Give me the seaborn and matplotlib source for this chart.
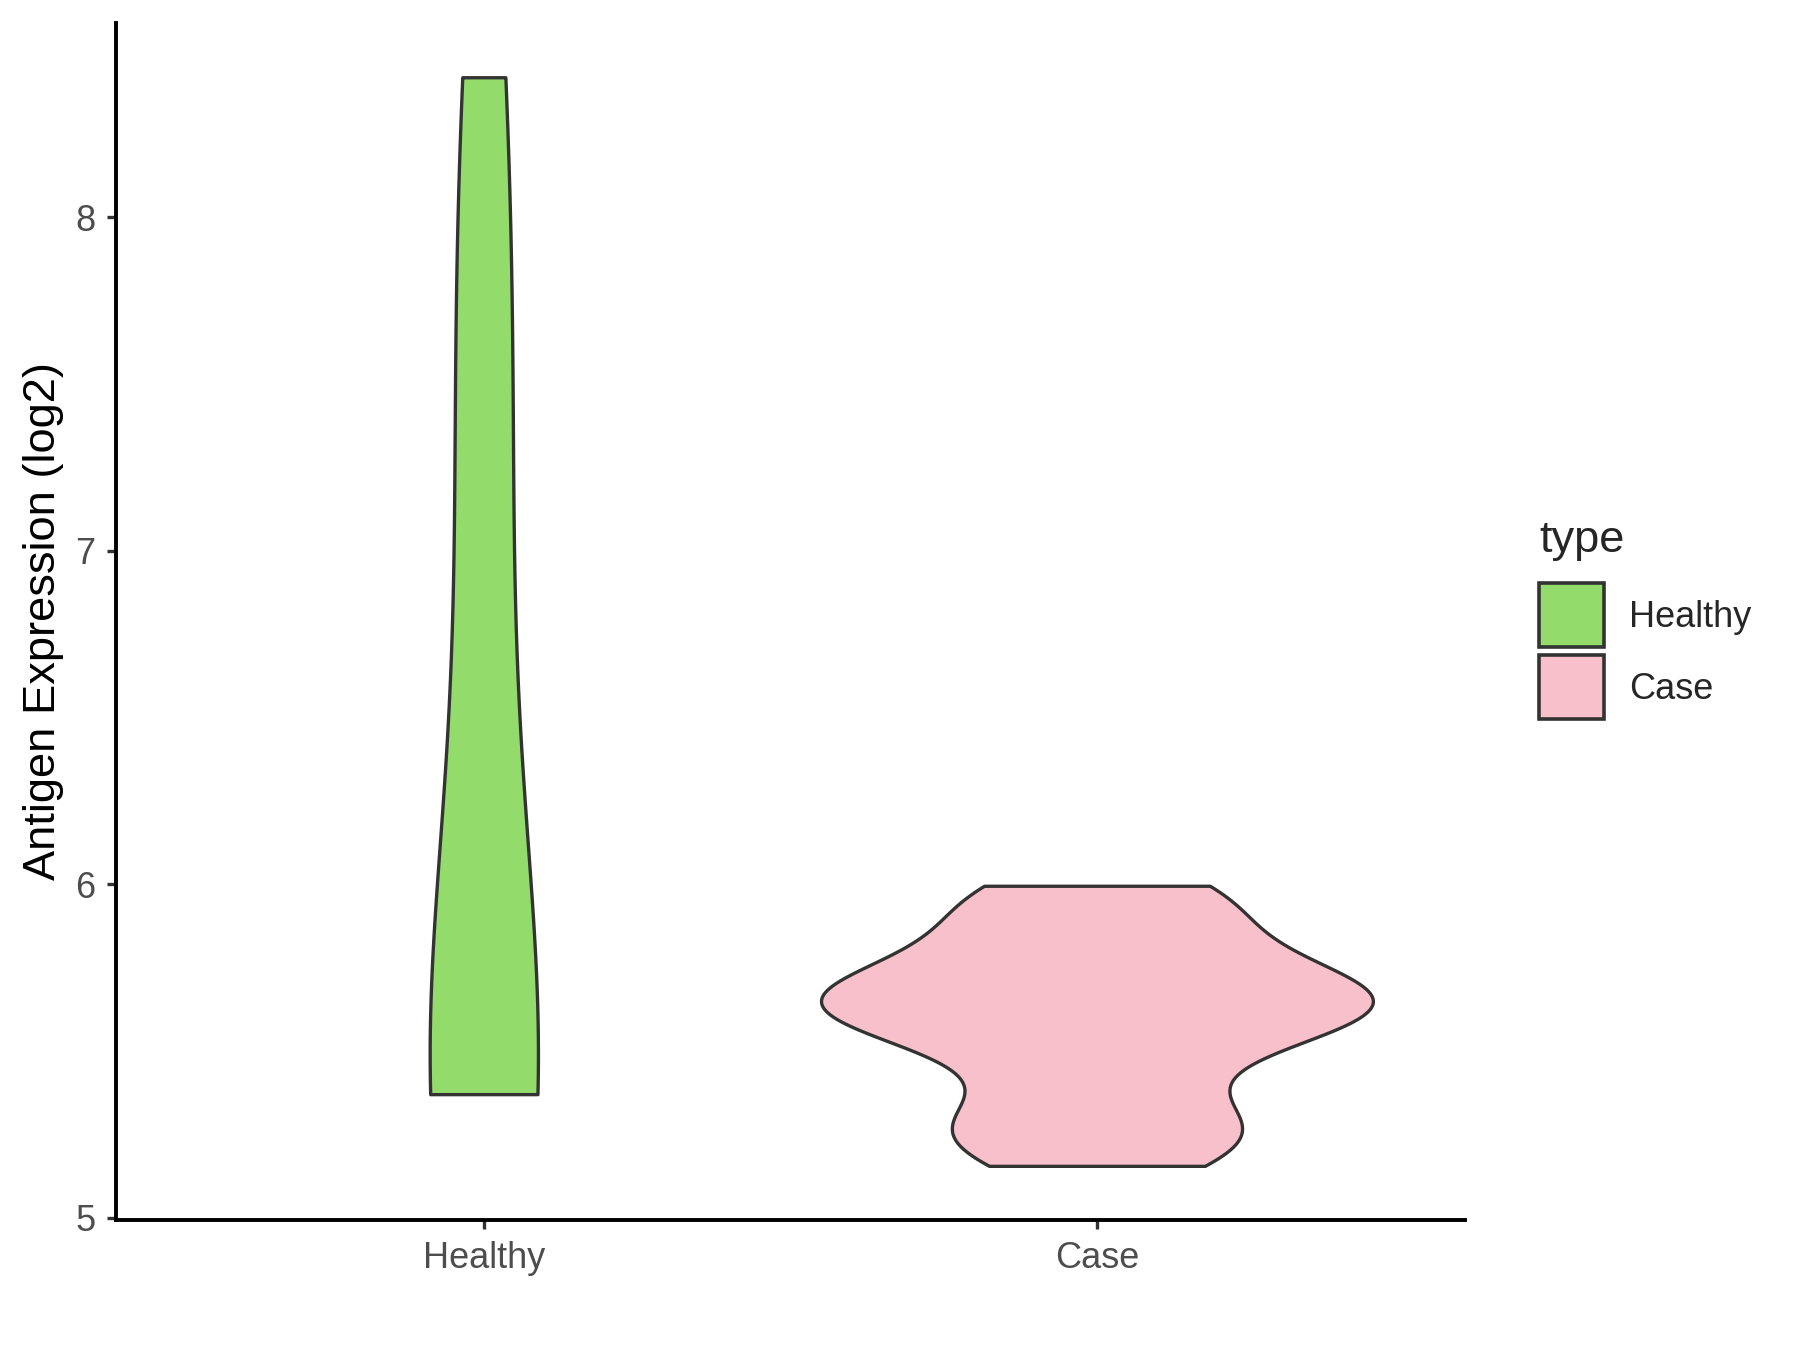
import numpy as np
import pandas as pd
import matplotlib
matplotlib.use("Agg")
import matplotlib.pyplot as plt
from matplotlib.patches import Patch
import seaborn as sns

# ---- data (log2 antigen expression) ----
categories = ["Healthy", "Case"]
healthy_values = [5.37, 5.38, 5.40, 5.44, 6.80, 7.60, 8.42]
case_values = [5.155, 5.17, 5.19, 5.23, 5.25, 5.27, 5.29, 5.31, 5.33,
               5.45, 5.49, 5.52, 5.55, 5.57,
               5.59, 5.61, 5.62, 5.63, 5.64, 5.65, 5.655, 5.66, 5.67, 5.68, 5.70,
               5.72, 5.75, 5.78, 5.81, 5.85, 5.89, 5.93, 5.96, 5.98, 5.99, 5.995]
colors = ["#93DB6A", "#F7C0CB"]
y_ticks = [5, 6, 7, 8]
y_label = "Antigen Expression (log2)"
legend_title = "type"

df = pd.DataFrame({
    "type": ["Healthy"] * len(healthy_values) + ["Case"] * len(case_values),
    "value": healthy_values + case_values,
})
palette = dict(zip(categories, colors))


def nrd0(kde):
    """Silverman's rule of thumb (R bw.nrd0) expressed as a scipy factor."""
    x = kde.dataset[0]
    sd = np.std(x, ddof=1)
    q75, q25 = np.percentile(x, [75, 25])
    lo = min(sd, (q75 - q25) / 1.34)
    bw = 0.9 * lo * len(x) ** (-0.2)
    return bw / sd


sns.set_style("white")
plt.rcParams["font.family"] = ["Liberation Sans", "DejaVu Sans"]

fig = plt.figure(figsize=(9, 6.75), dpi=200)
ax = fig.add_axes([0.0644, 0.0961, 0.7494, 0.887])

sns.violinplot(data=df, x="type", y="value", hue="type", order=categories,
               hue_order=categories, palette=palette, legend=False,
               density_norm="area", common_norm=True, cut=0, gridsize=512,
               bw_method=nrd0, inner=None, width=0.9, linewidth=1.2,
               linecolor="#333333", saturation=1, ax=ax)

allv = np.array(healthy_values + case_values)
rng = allv.max() - allv.min()
ax.set_ylim(allv.min() - 0.05 * rng, allv.max() + 0.05 * rng)
ax.set_xlim(-0.6, len(categories) - 0.4)
ax.set_yticks(y_ticks)
ax.set_yticklabels([str(t) for t in y_ticks])
ax.set_xlabel("")
ax.set_ylabel(y_label, fontsize=16.3, color="black", labelpad=4)

for side in ["top", "right"]:
    ax.spines[side].set_visible(False)
for side in ["left", "bottom"]:
    ax.spines[side].set_color("black")
    ax.spines[side].set_linewidth(1.4)
ax.tick_params(axis="both", which="major", length=3.3, width=1.2,
               color="#333333", labelcolor="#4D4D4D", labelsize=13, pad=4,
               left=True, bottom=True)
ax.grid(False)

handles = [Patch(facecolor=palette[c], edgecolor="#333333", linewidth=1.3, label=c)
           for c in categories]
leg = fig.legend(handles=handles, title=legend_title, loc="upper left",
                 bbox_to_anchor=(0.845, 0.628), frameon=False, fontsize=13,
                 title_fontsize=16.3, handlelength=1.8, handleheight=2.35,
                 labelspacing=0.22, handletextpad=0.7, borderpad=0,
                 alignment="left")
leg._legend_box.sep = 8

fig.savefig("out.png", dpi=200)
